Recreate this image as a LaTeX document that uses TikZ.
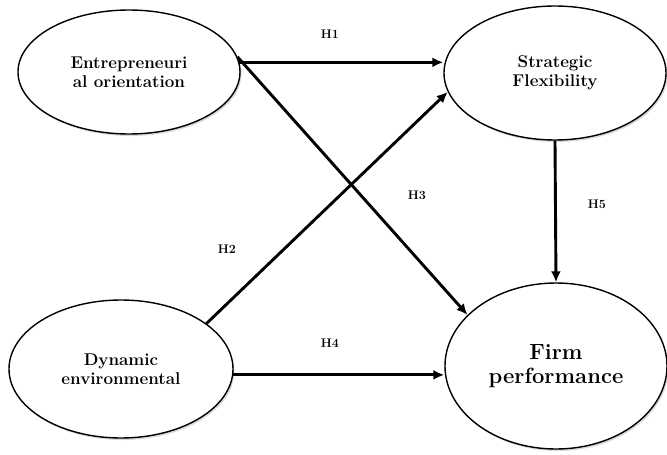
\documentclass[tikz,border=0pt]{standalone}
\usetikzlibrary{shapes.geometric,arrows.meta,shadows}

\begin{document}
\begin{tikzpicture}[x=1pt,y=-1pt,
  every path/.style={>={Latex[length=11pt,width=10pt]}},
  construct/.style={draw,ellipse,line width=1.4pt,fill=white,align=center,
    font=\bfseries\fontsize{17}{19}\selectfont,
    drop shadow={opacity=0.3,shadow xshift=1.5pt,shadow yshift=-2pt}},
  path/.style={->,line width=2.9pt},
  hyp/.style={font=\bfseries\fontsize{12.5}{14}\selectfont}]
\useasboundingbox (0,0) rectangle (667,455);
\node[construct,minimum width=222pt,minimum height=124pt] (eo)  at (129,72)  {Entrepreneuri\\al orientation};
\node[construct,minimum width=222pt,minimum height=134pt] (sf)  at (555,73)  {Strategic\\Flexibility};
\node[construct,minimum width=224pt,minimum height=138pt] (dyn) at (121,369) {Dynamic\\environmental};
\node[construct,minimum width=222pt,minimum height=166pt,
      font=\bfseries\fontsize{22}{24}\selectfont] (fp) at (556,366) {Firm\\performance};
\node[hyp] (h1) at (330,34)  {H1};
\node[hyp] (h2) at (227,249) {H2};
\node[hyp] (h3) at (417,195) {H3};
\node[hyp] (h4) at (330,343) {H4};
\node[hyp] (h5) at (597,204) {H5};
\draw[path] (eo.5)   -- (sf.west |- eo.5);
\draw[path] (eo.8)   -- (fp.150);
\draw[path] (dyn.28) -- (sf.190);
\draw[path] (dyn.-3) -- (fp.west |- dyn.-3);
\draw[path] (sf.south) -- (fp.north);
\end{tikzpicture}
\end{document}
